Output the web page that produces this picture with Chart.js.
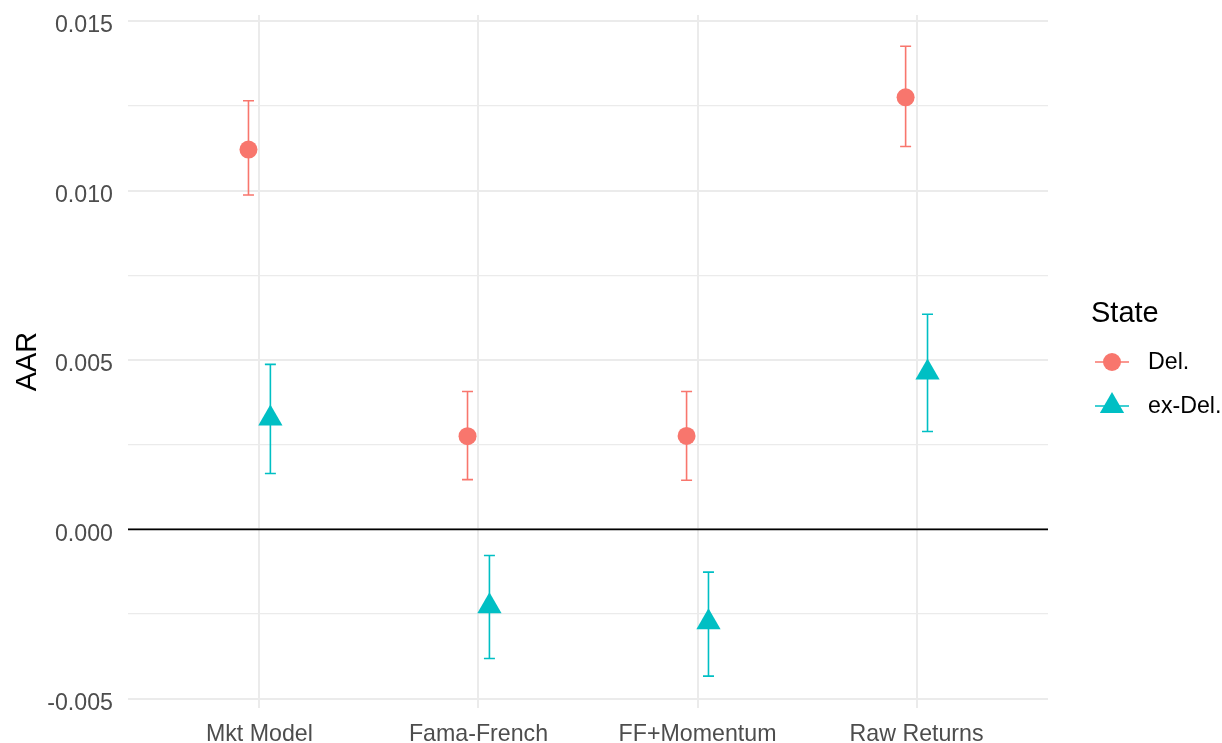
<!DOCTYPE html>
<html><head><meta charset="utf-8">
<script src="https://cdn.jsdelivr.net/npm/chart.js@4.4.1/dist/chart.umd.min.js"></script>
<style>html,body{margin:0;padding:0;background:#fff;}#wrap{width:1222px;height:743px;}</style>
</head><body><div id="wrap"><canvas id="c" width="1222" height="743"></canvas></div>
<script>
// ---- data ----
const categories = ['Mkt Model', 'Fama-French', 'FF+Momentum', 'Raw Returns'];
const seriesNames = ['Del.', 'ex-Del.'];
const delAAR  = [0.01121, 0.00275, 0.00276, 0.01275];
const delLow  = [0.00987, 0.00147, 0.00145, 0.01130];
const delHigh = [0.01265, 0.00407, 0.00407, 0.01426];
const exDelAAR  = [0.00327, -0.00227, -0.00274, 0.00463];
const exDelLow  = [0.00165, -0.00381, -0.00433, 0.00289];
const exDelHigh = [0.00487, -0.00077, -0.00126, 0.00635];
const yTickValues = [-0.005, 0.000, 0.005, 0.010, 0.015];
const yTickLabels = ['-0.005', '0.000', '0.005', '0.010', '0.015'];
const yMinorValues = [-0.0025, 0.0025, 0.0075, 0.0125];
const legendTitle = 'State';
const yTitle = 'AAR';

// ---- styling ----
const FONT = "'Liberation Sans', Arial, Helvetica, sans-serif";
const TICK_SIZE = 23.2;
const TITLE_SIZE = 29;
const colors = ['#F8766D', '#00BFC4'];
const styles = ['circle', 'triangle'];
const radii = [9, 14];
const dodge = [-0.05, 0.05];
const lows = [delLow, exDelLow];
const highs = [delHigh, exDelHigh];
const values = [delAAR, exDelAAR];

const isMajor = v => yTickValues.some(t => Math.abs(t - v) < 1e-9);

const datasets = seriesNames.map((name, s) => ({
  label: name,
  data: values[s].map((v, i) => ({x: i + 1 + dodge[s], y: v})),
  pointStyle: styles[s],
  pointRadius: radii[s],
  pointHoverRadius: radii[s],
  pointBackgroundColor: colors[s],
  pointBorderWidth: 0,
  showLine: false
}));

const errorBarPlugin = {
  id: 'errbars',
  beforeDatasetsDraw(chart) {
    const {ctx, chartArea, scales: {x, y}} = chart;
    ctx.save();
    // zero reference line
    const y0 = y.getPixelForValue(0);
    ctx.strokeStyle = '#000000';
    ctx.lineWidth = 1.6;
    ctx.beginPath();
    ctx.moveTo(chartArea.left, y0);
    ctx.lineTo(chartArea.right, y0);
    ctx.stroke();
    // error bars
    const capHalf = 5.5;
    seriesNames.forEach((name, s) => {
      ctx.strokeStyle = colors[s];
      ctx.lineWidth = 1.6;
      categories.forEach((c, i) => {
        const px = x.getPixelForValue(i + 1 + dodge[s]);
        const pLo = y.getPixelForValue(lows[s][i]);
        const pHi = y.getPixelForValue(highs[s][i]);
        ctx.beginPath();
        ctx.moveTo(px, pLo); ctx.lineTo(px, pHi);
        ctx.moveTo(px - capHalf, pLo); ctx.lineTo(px + capHalf, pLo);
        ctx.moveTo(px - capHalf, pHi); ctx.lineTo(px + capHalf, pHi);
        ctx.stroke();
      });
    });
    ctx.restore();
  }
};

const legendPlugin = {
  id: 'ggLegend',
  afterDraw(chart) {
    const {ctx} = chart;
    ctx.save();
    ctx.fillStyle = '#000000';
    ctx.textBaseline = 'middle';
    ctx.textAlign = 'left';
    ctx.font = `${TITLE_SIZE}px ${FONT}`;
    ctx.fillText(legendTitle, 1091, 314);
    const keyY = [362, 406];
    seriesNames.forEach((name, s) => {
      const cy = keyY[s];
      ctx.strokeStyle = colors[s];
      ctx.lineWidth = 1.6;
      ctx.beginPath();
      ctx.moveTo(1095, cy); ctx.lineTo(1129, cy);
      ctx.stroke();
      ctx.fillStyle = colors[s];
      Chart.helpers.drawPoint(ctx, {pointStyle: styles[s], radius: radii[s], borderWidth: 0, rotation: 0}, 1112, cy);
      ctx.fillStyle = '#000000';
      ctx.font = `${TICK_SIZE}px ${FONT}`;
      ctx.fillText(name, 1148, cy + 1);
    });
    ctx.restore();
  }
};

new Chart(document.getElementById('c'), {
  type: 'scatter',
  data: {datasets},
  plugins: [errorBarPlugin, legendPlugin],
  options: {
    responsive: false,
    animation: false,
    devicePixelRatio: 1,
    layout: {padding: {left: 0, right: 174, top: 15, bottom: 0}},
    plugins: {legend: {display: false}, tooltip: {enabled: false}},
    scales: {
      x: {
        type: 'linear', min: 0.4, max: 4.6,
        afterBuildTicks: s => { s.ticks = categories.map((c, i) => ({value: i + 1})); },
        afterFit: s => { s.height = 35; s.paddingLeft = 0; s.paddingRight = 0; },
        ticks: {
          callback: (v, idx) => categories[idx],
          font: {family: FONT, size: TICK_SIZE, lineHeight: 1.2},
          color: '#4D4D4D', padding: 13, autoSkip: false, maxRotation: 0, minRotation: 0
        },
        grid: {color: '#EBEBEB', lineWidth: 2, drawTicks: false},
        border: {display: false}
      },
      y: {
        type: 'linear', min: -0.00527, max: 0.01518,
        afterBuildTicks: s => {
          s.ticks = yTickValues.concat(yMinorValues).sort((a, b) => a - b).map(v => ({value: v}));
        },
        afterFit: s => { s.width = 128; s.paddingTop = 0; s.paddingBottom = 0; },
        ticks: {
          callback: v => { const k = yTickValues.findIndex(t => Math.abs(t - v) < 1e-9); return k >= 0 ? yTickLabels[k] : ''; },
          font: {family: FONT, size: TICK_SIZE, lineHeight: 1.2},
          color: '#4D4D4D', padding: 15, labelOffset: 5, autoSkip: false
        },
        grid: {
          color: '#EBEBEB',
          lineWidth: c => (c.tick && isMajor(c.tick.value)) ? 2 : 1.3,
          drawTicks: false
        },
        border: {display: false},
        title: {
          display: true, text: yTitle, color: '#000000',
          font: {family: FONT, size: TITLE_SIZE, lineHeight: 1.2},
          padding: {top: 11, bottom: 0}
        }
      }
    }
  }
});
</script>
</body></html>
